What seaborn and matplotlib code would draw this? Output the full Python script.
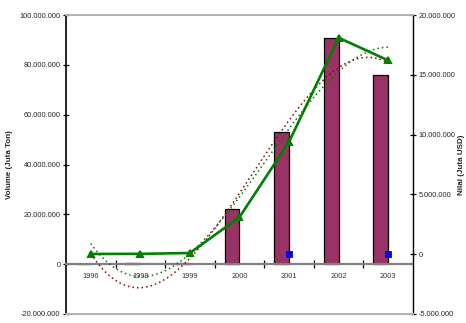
import matplotlib
matplotlib.use("Agg")
import matplotlib.pyplot as plt
from matplotlib.ticker import FuncFormatter, FixedLocator
import numpy as np
import pandas as pd
import seaborn as sns

# Data
years = ["1996", "1998", "1999", "2000", "2001", "2002", "2003"]
volume_ton = [0, 0.3e6, 0.6e6, 22.0e6, 53.2e6, 90.8e6, 76.0e6]
nilai_usd = [0.02e6, 0.03e6, 0.1e6, 3.1e6, 9.4e6, 18.1e6, 16.2e6]
other_years = ["2001", "2003"]
other_usd = [0.0, 0.0]

left_ticks = [-20e6, 0, 20e6, 40e6, 60e6, 80e6, 100e6]
right_ticks = [-5e6, 0, 5e6, 10e6, 15e6, 20e6]

sns.set_theme(style="white")
plt.rcParams["font.family"] = ["Liberation Sans", "DejaVu Sans"]

maroon = "#993366"
green = "#008000"
fs = 5.3

fig = plt.figure(figsize=(4.66, 3.23), dpi=100)
ax = fig.add_axes([66 / 466, 9 / 323, 347 / 466, 299 / 323])

df = pd.DataFrame({"Tahun": years, "Volume": volume_ton, "Seri": "Volume"})
sns.barplot(data=df, x="Tahun", y="Volume", hue="Seri",
            hue_order=["Volume", "Nilai"], order=years,
            palette={"Volume": maroon, "Nilai": "#0000FF"}, saturation=1,
            width=0.6, dodge=True, edgecolor="black", linewidth=0.9,
            legend=False, ax=ax, zorder=2)

# polynomial trend for volume
idx = np.arange(len(years))
sns.regplot(x=idx, y=np.array(volume_ton), order=3, ci=None, scatter=False,
            ax=ax, truncate=True,
            line_kws=dict(color="#990000", linestyle=(0, (1, 2)), linewidth=1.1, zorder=3))

ax2 = ax.twinx()
sns.regplot(x=idx, y=np.array(nilai_usd), order=3, ci=None, scatter=False,
            ax=ax2, truncate=True,
            line_kws=dict(color=green, linestyle=(0, (1, 2)), linewidth=1.1, zorder=3))
sns.pointplot(x=years, y=nilai_usd, order=years, ax=ax2, color=green,
              marker="^", markersize=4.5, linewidth=1.9, errorbar=None, zorder=4)
sns.pointplot(x=other_years, y=other_usd, order=years, ax=ax2, color="#0000FF",
              marker="s", markersize=3.5, linestyle="none", errorbar=None, zorder=5)

ax.set_xlim(-0.5, len(years) - 0.5)
ax.set_ylim(left_ticks[0], left_ticks[-1])
ax2.set_ylim(right_ticks[0], right_ticks[-1])

fmt = FuncFormatter(lambda v, p: f"{v:,.0f}".replace(",", "."))
ax.yaxis.set_major_locator(FixedLocator(left_ticks))
ax.yaxis.set_major_formatter(fmt)
ax2.yaxis.set_major_locator(FixedLocator(right_ticks))
ax2.yaxis.set_major_formatter(fmt)

# category axis sits on the zero line
ax.spines["bottom"].set_position(("data", 0))
ax.spines["bottom"].set_color("#808080")
ax.spines["bottom"].set_linewidth(1.6)
ax.spines["top"].set_visible(False)
ax.spines["right"].set_visible(False)
ax.spines["left"].set_color("black")
ax.spines["left"].set_linewidth(1.2)

ax2.spines["left"].set_visible(False)
ax2.spines["top"].set_color("#b0b0b0")
ax2.spines["top"].set_linewidth(1.4)
ax2.spines["bottom"].set_color("#b0b0b0")
ax2.spines["bottom"].set_linewidth(1.4)
ax2.spines["right"].set_color("black")
ax2.spines["right"].set_linewidth(1.0)

ax.set_xticks(idx)
ax.set_xticklabels(years)
ax.set_xticks(idx[:-1] + 0.5, minor=True)
ax.tick_params(axis="x", which="major", length=0, pad=6, labelsize=fs, colors="#333333")
ax.tick_params(axis="x", which="minor", direction="inout", length=6, width=0.9,
               color="black", bottom=True)
ax.tick_params(axis="y", direction="inout", length=4, width=0.9, pad=2,
               labelsize=fs, left=True, color="black")
ax2.tick_params(axis="y", direction="inout", length=4, width=0.9, pad=2,
                labelsize=fs, right=True, color="black")
ax2.tick_params(axis="x", bottom=False, labelbottom=False)
ax2.set_xlabel("")

ax.set_xlabel("")
ax.set_ylabel("Volume (Juta Ton)", fontsize=5.8, fontweight="bold")
ax.yaxis.set_label_coords(-0.153, 0.5)
ax2.set_ylabel("Nilai (Juta USD)", fontsize=5.8, fontweight="bold")
ax2.yaxis.set_label_coords(1.13, 0.5)

fig.savefig("out.png", dpi=100)
